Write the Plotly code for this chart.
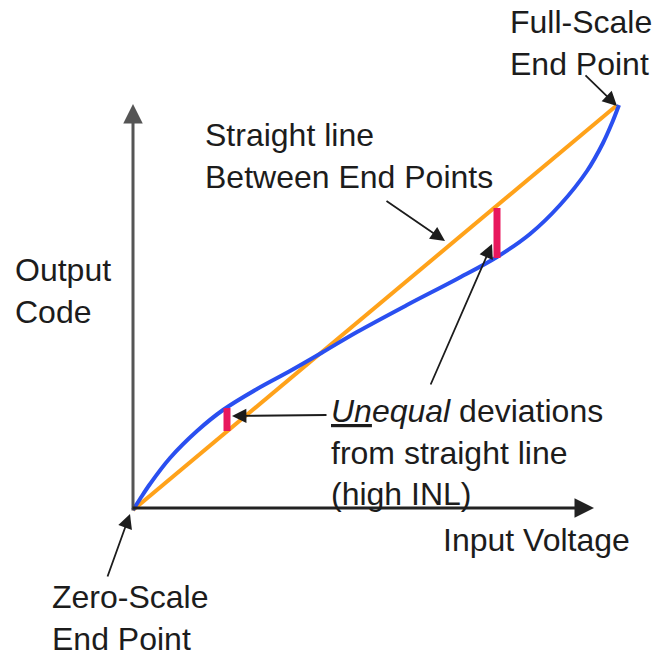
import plotly.graph_objects as go

# diagram coordinates (x to the right, y downwards, like the picture)
ideal_x = [133, 616]
ideal_y = [510, 106]

actual_x = [133, 140, 150, 170, 197, 223, 257, 290, 323, 357, 407, 457, 497, 530, 560, 587, 603, 612, 619]
actual_y = [510, 499, 484, 458, 431, 410, 389, 371, 352, 332, 305, 279, 257, 234, 205, 171, 143, 123, 105]

dev_x = [227, 497]
dev_top = [408, 208]
dev_bottom = [431, 258]

ORANGE = '#FFA21A'
BLUE = '#2A4FF0'
RED = '#E8175D'
INK = '#1c1c1c'

fig = go.Figure()

fig.add_trace(go.Scatter(x=ideal_x, y=ideal_y, mode='lines',
                         line=dict(color=ORANGE, width=4), hoverinfo='skip'))
fig.add_trace(go.Scatter(x=actual_x, y=actual_y, mode='lines',
                         line=dict(color=BLUE, width=4, shape='spline', smoothing=1),
                         hoverinfo='skip'))
for i in range(len(dev_x)):
    fig.add_trace(go.Scatter(x=[dev_x[i], dev_x[i]], y=[dev_top[i], dev_bottom[i]], mode='lines',
                             line=dict(color=RED, width=7), hoverinfo='skip'))

# axes with arrow heads
axis_arrows = [
    dict(x=133, y=104, ax=133, ay=512, color='#555555'),
    dict(x=594, y=508, ax=131, ay=508, color='#222222'),
]
for a in axis_arrows:
    fig.add_annotation(x=a['x'], y=a['y'], ax=a['ax'], ay=a['ay'], xref='x', yref='y',
                       axref='x', ayref='y', text='', showarrow=True,
                       arrowhead=2, arrowsize=1.3, arrowwidth=3, arrowcolor=a['color'])

# pointer arrows
pointers = [
    (617, 106, 584, 74),
    (445, 241, 385, 200),
    (492, 244, 430, 386),
    (232, 416, 328, 415),
    (130, 514, 107, 578),
]
for x, y, ax, ay in pointers:
    fig.add_annotation(x=x, y=y, ax=ax, ay=ay, xref='x', yref='y',
                       axref='x', ayref='y', text='', showarrow=True,
                       arrowhead=2, arrowsize=1.6, arrowwidth=1.8, arrowcolor=INK)

labels = [
    (508, 43, 'Full-Scale<br>End Point'),
    (203, 156, 'Straight line<br>Between End Points'),
    (13, 291, 'Output<br>Code'),
    (329, 452, '<i><u>Un</u>equal</i> deviations<br>from straight line<br>(high INL)'),
    (441, 540, 'Input Voltage'),
    (50, 618, 'Zero-Scale<br>End Point'),
]
for x, y, t in labels:
    fig.add_annotation(x=x, y=y, xref='x', yref='y', text=t, showarrow=False,
                       xanchor='left', yanchor='middle', align='left',
                       font=dict(family='Liberation Sans, Arial', size=32, color=INK))

fig.update_layout(
    width=655,
    height=656,
    margin=dict(l=0, r=0, t=0, b=0),
    paper_bgcolor='white',
    plot_bgcolor='white',
    showlegend=False,
    xaxis=dict(range=[0, 655], visible=False, fixedrange=True),
    yaxis=dict(range=[656, 0], visible=False, fixedrange=True),
)

# drop the default 8px page margin so the figure fills the window exactly
fig.write_html("out.html", config={'displayModeBar': False},
               post_script="document.body.style.margin='0';document.body.style.overflow='hidden';")
